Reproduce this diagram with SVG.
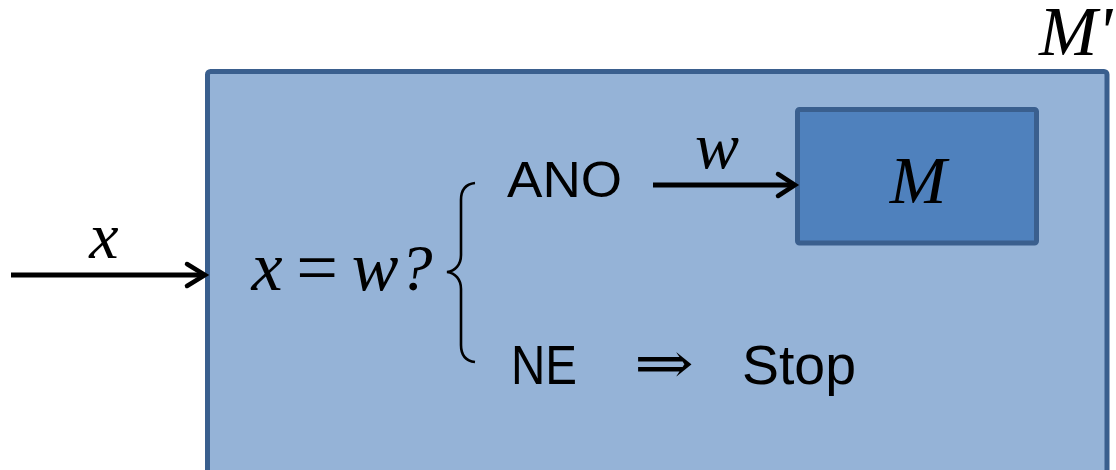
<svg xmlns="http://www.w3.org/2000/svg" width="1116" height="470" viewBox="0 0 1116 470">
  <defs>
    <style>
      .math { font-family: "Liberation Serif", "Times New Roman", serif; font-style: italic; fill: #000; }
      .mathr { font-family: "Liberation Serif", "Times New Roman", serif; fill: #000; }
      .sans { font-family: "Liberation Sans", Arial, sans-serif; fill: #000; }
      .conn { stroke: #000; stroke-width: 5; fill: none; }
      .head { stroke: #000; stroke-width: 4.5; fill: none; stroke-linecap: round; stroke-linejoin: miter; }
    </style>
  </defs>
  <rect width="1116" height="470" fill="#ffffff"/>

  <g id="outer-machine">
    <rect x="207.5" y="71.5" width="899.5" height="420" rx="3" fill="#95b3d7" stroke="#3a5f8e" stroke-width="5"/>
    <text class="math" x="1039" y="55" font-size="70">M'</text>
  </g>

  <g id="inner-machine">
    <rect x="797.5" y="109.5" width="239" height="133.5" rx="2" fill="#4f81bd" stroke="#3a5f8e" stroke-width="5"/>
    <text class="math" x="918" y="203" font-size="68" text-anchor="middle">M</text>
  </g>

  <g id="condition">
    <text class="math" x="267" y="290" font-size="70" text-anchor="middle">x</text>
    <text class="mathr" x="317" y="292" font-size="74" text-anchor="middle">=</text>
    <text class="math" x="375" y="290" font-size="70" text-anchor="middle">w</text>
    <text class="math" x="416" y="290" font-size="66" text-anchor="middle">?</text>
    <path d="M475,183 C466,184 461,190 461,200 L461,255 C461,265 455,271 447,272 C455,273 461,279 461,289 L461,345 C461,355 466,361 475,362" fill="none" stroke="#000" stroke-width="2.6"/>
  </g>

  <g id="ano">
    <text class="sans" x="507" y="197" font-size="50" textLength="115" lengthAdjust="spacingAndGlyphs">ANO</text>
  </g>

  <g id="ne-stop">
    <text class="sans" x="511" y="384" font-size="56" textLength="66" lengthAdjust="spacingAndGlyphs">NE</text>
    <text x="634" y="383" font-family="DejaVu Serif, serif" font-size="58" textLength="60" lengthAdjust="spacingAndGlyphs">⇒</text>
    <text class="sans" x="742" y="384" font-size="56" textLength="114" lengthAdjust="spacingAndGlyphs">Stop</text>
  </g>

  <g id="connectors">
    <line class="conn" x1="11" y1="275" x2="203" y2="275"/>
    <polyline class="head" points="187,264 205,275 187,286"/>
    <text class="math" x="104" y="258" font-size="66" text-anchor="middle">x</text>

    <line class="conn" x1="653" y1="185" x2="793" y2="185"/>
    <polyline class="head" points="778,174 795,185 778,196"/>
    <text class="math" x="717" y="168" font-size="66" text-anchor="middle">w</text>
  </g>
</svg>
